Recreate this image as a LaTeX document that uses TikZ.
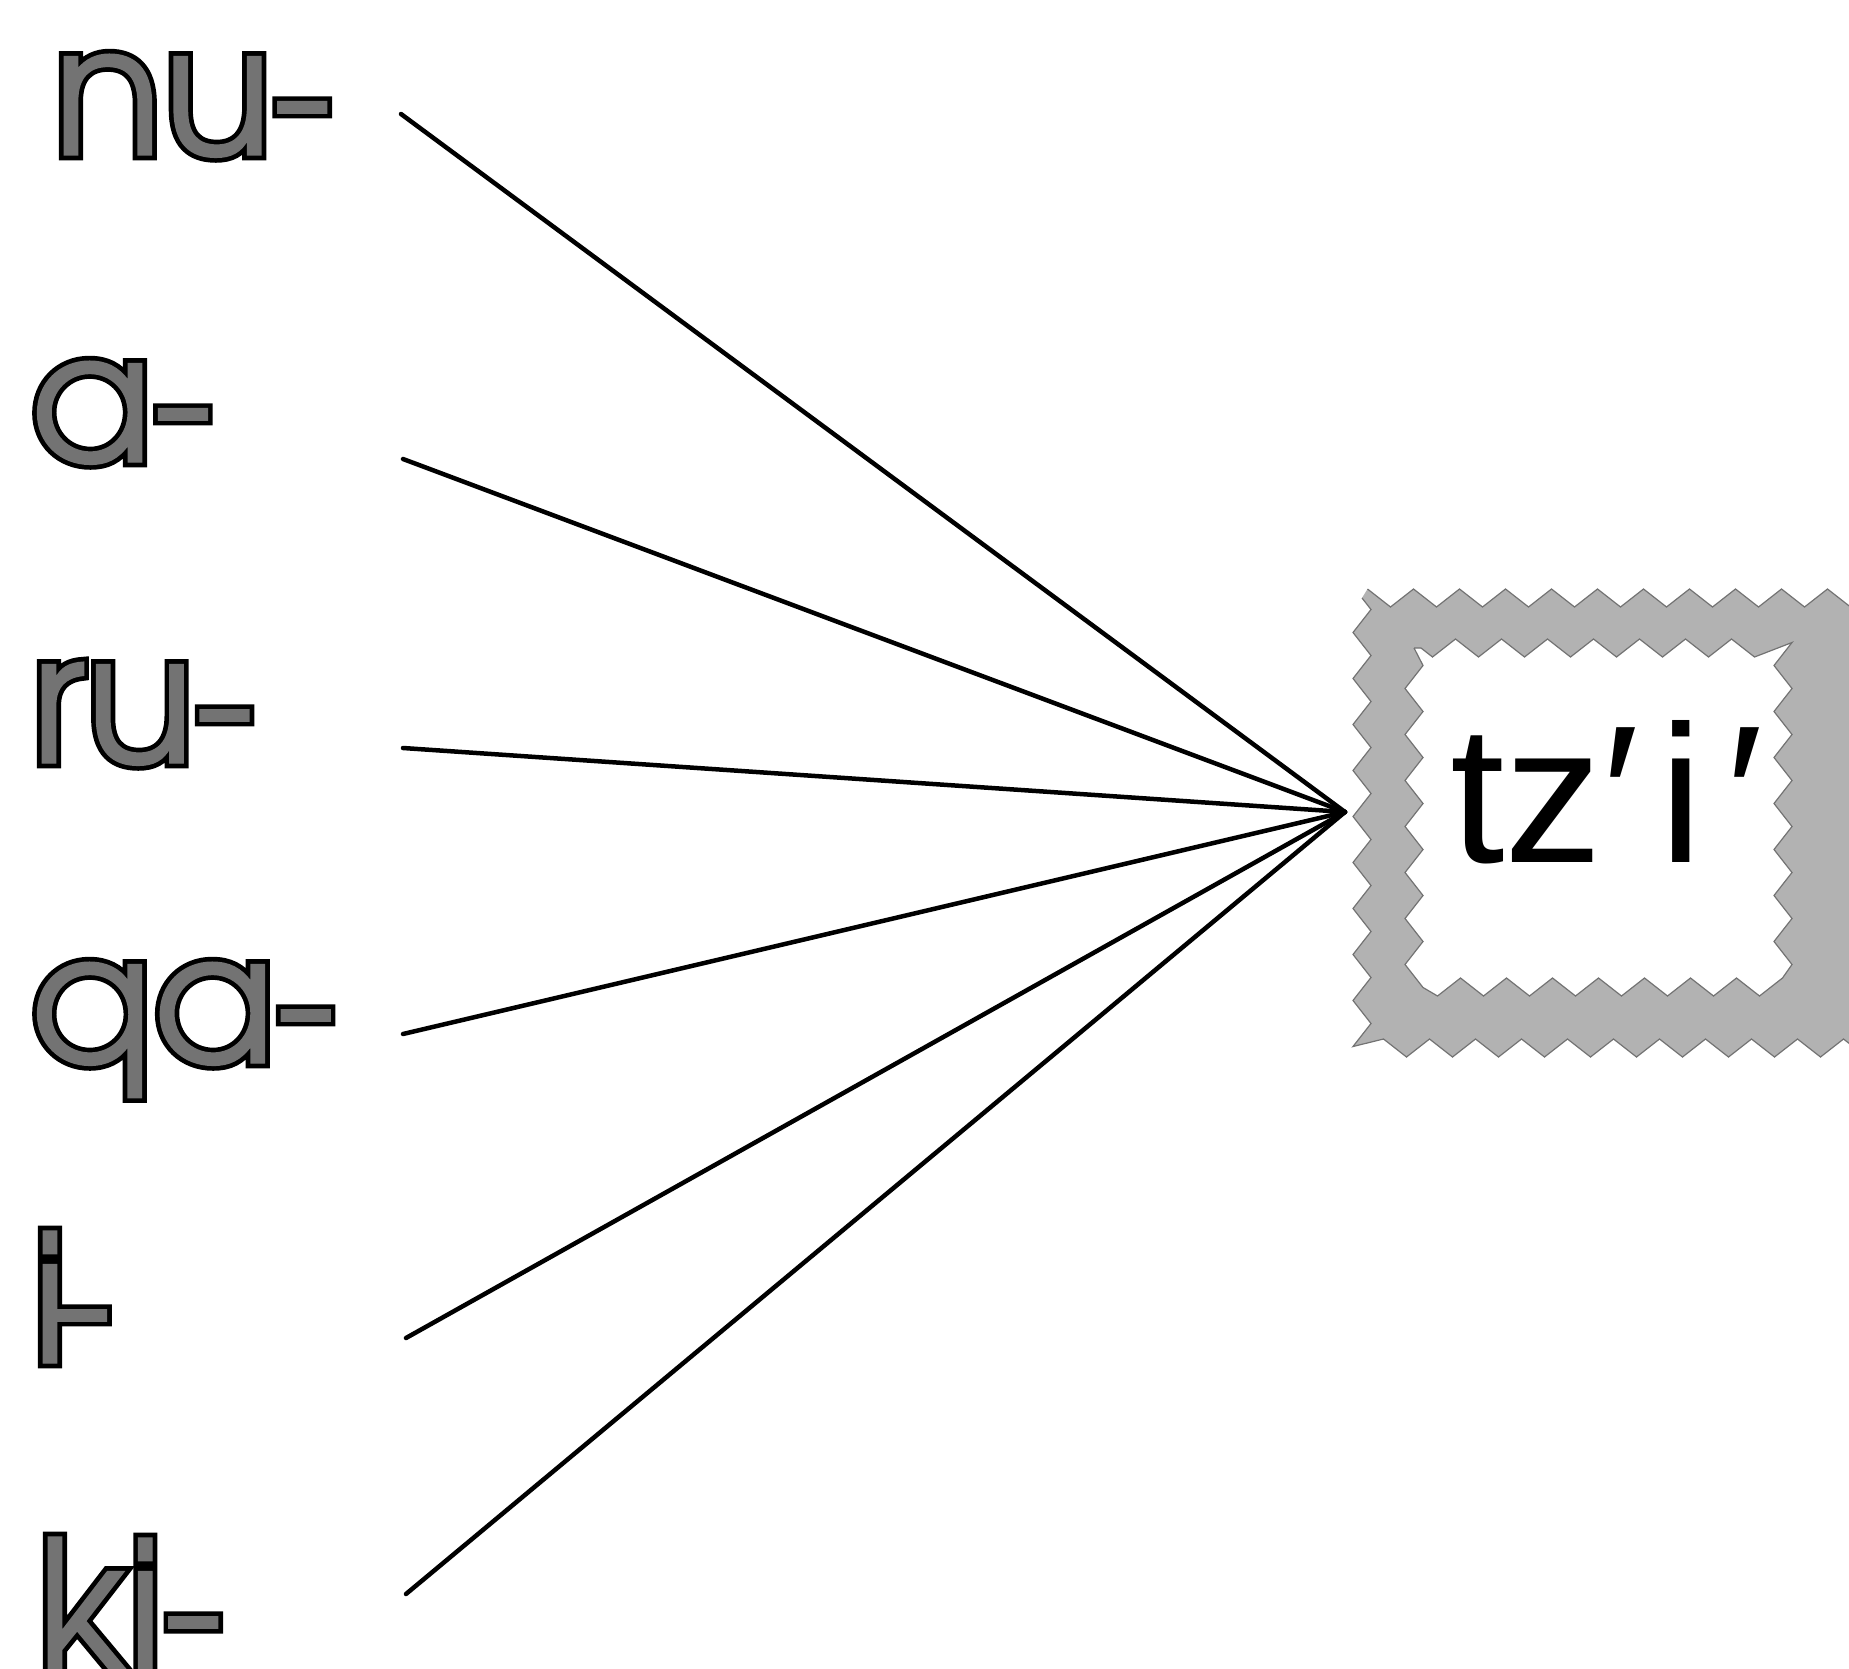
\documentclass[tikz,border=0pt]{standalone}
\usepackage{fontspec}
\newfontfamily\advfont{TeX Gyre Adventor}[FakeBold=0.8]
\newfontfamily\advout{TeX Gyre Adventor}[FakeBold=6]
\newfontfamily\tzfont{Liberation Sans}
\usetikzlibrary{decorations.pathmorphing}
\definecolor{labelgray}{gray}{0.45}
\definecolor{framegray}{gray}{0.70}
\newcommand\lblsize{\fontsize{180}{200}\selectfont}
\newcommand\outlbl[3]{%
  \node[lbl, text=black, font=\lblsize\advout] at (#2) {#3};
  \node[lbl, text=labelgray, font=\lblsize\advfont] (#1) at (#2) {#3};}
\tikzset{
  lbl/.style={anchor=base west, inner sep=0pt, outer sep=0pt},
  spoke/.style={line width=4.5pt, black, line cap=round},
  framestyle/.style={fill=framegray, draw=black!55, line width=1.2pt, even odd rule,
    decorate, decoration={zigzag, segment length=46, amplitude=9}},
}
\begin{document}
\begin{tikzpicture}[x=1pt, y=-1pt]
\useasboundingbox (0,0) rectangle (1849,1669);
\fill[white] (0,0) rectangle (1849,1669);
\clip (0,0) rectangle (1849,1669);

% labels
\outlbl{nu}{53,155}{nu-}
\outlbl{a}{30,462}{a-}
\outlbl{ru}{31,763}{ru-}
\outlbl{qa}{30,1063}{qa-}
\outlbl{i}{32,1363}{i\kern-16pt-}
\outlbl{ki}{37,1670}{ki-}

% spoke start points and hub
\coordinate (s1) at (401,114);
\coordinate (s2) at (403,459);
\coordinate (s3) at (403,748);
\coordinate (s4) at (403,1034);
\coordinate (s5) at (406,1338);
\coordinate (s6) at (406,1594);
\coordinate (hub) at (1345,812);
\foreach \s in {s1,s2,s3,s4,s5,s6} \draw[spoke] (\s) -- (hub);

% frame
\path[framestyle] (1362,598) rectangle (1875,1048) (1414,648) rectangle (1783,987);
\node[lbl, font=\tzfont\fontsize{196}{200}\selectfont] (tzi) at (1450,862) {tz′\kern20pt i\kern24pt′};
\end{tikzpicture}
\end{document}
